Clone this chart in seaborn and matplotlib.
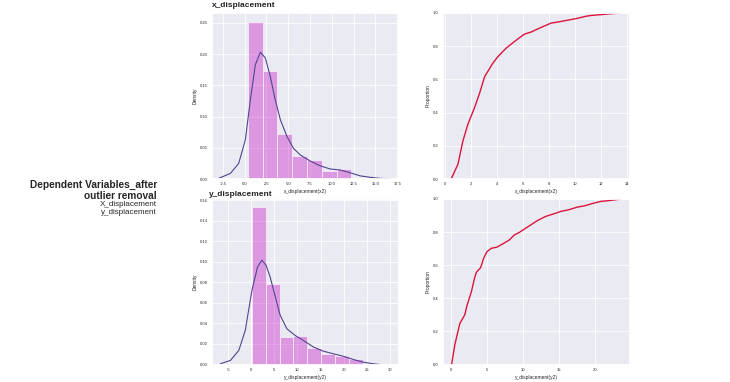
import numpy as np
import matplotlib
matplotlib.use("Agg")
import matplotlib.pyplot as plt
import seaborn as sns

# histogram bins (density)
x_bin_edges = [0.35, 2.05, 3.75, 5.45, 7.15, 8.85, 10.55, 12.25]
x_bin_density = [0.252, 0.173, 0.072, 0.037, 0.030, 0.013, 0.016]
y_bin_edges = [0.15, 3.15, 6.15, 9.15, 12.15, 15.15, 18.15, 21.15, 24.15]
y_bin_density = [0.153, 0.078, 0.0267, 0.0276, 0.016, 0.0098, 0.0078, 0.0055]

# kde curves
x_kde_x = [-3.0, -1.64, -0.69, 0.08, 0.65, 1.22, 1.8, 2.37, 2.94, 3.5, 4.09, 4.85,
           5.6, 6.38, 7.5, 8.68, 9.82, 10.97, 12.1, 13.26, 14.4, 15.56, 16.7]
x_kde_y = [0.001, 0.009, 0.025, 0.063, 0.127, 0.183, 0.203, 0.194, 0.164, 0.127, 0.095, 0.068,
           0.049, 0.0385, 0.029, 0.021, 0.016, 0.0144, 0.010, 0.005, 0.0027, 0.001, 0.0002]
y_kde_x = [-6.7, -4.5, -2.7, -1.3, 0.14, 1.37, 2.3, 3.2, 4.1, 5.2, 6.26, 7.7, 9.5, 11.3,
           13.5, 15.6, 17.8, 19.9, 22.1, 24.2, 26.4, 27.8]
y_kde_y = [0.0007, 0.004, 0.0137, 0.033, 0.072, 0.095, 0.1015, 0.0966, 0.085, 0.066, 0.048,
           0.0348, 0.0283, 0.0234, 0.0169, 0.013, 0.0104, 0.0081, 0.0049, 0.0023, 0.0007, 0.0]

# empirical cdf curves
x_ecdf_x = [0.48, 1.0, 1.38, 1.76, 2.27, 2.65, 3.04, 3.67, 4.06, 4.69, 5.33, 6.1, 6.6, 7.37,
            8.14, 9.03, 10.05, 10.8, 11.2, 11.96, 12.6, 13.5]
x_ecdf_y = [0.0, 0.09, 0.23, 0.33, 0.43, 0.515, 0.616, 0.697, 0.737, 0.788, 0.828, 0.873,
            0.885, 0.913, 0.939, 0.951, 0.966, 0.98, 0.985, 0.99, 0.995, 1.0]
y_ecdf_x = [0.14, 0.6, 1.28, 1.97, 2.29, 2.89, 3.35, 3.58, 4.17, 4.59, 5.05, 5.64, 6.42, 7.25,
            8.17, 8.85, 9.54, 10.23, 11.15, 12.06, 13.2, 14.36, 15.3, 16.4, 17.6, 18.7,
            19.86, 20.8, 21.9, 23.7]
y_ecdf_y = [0.0, 0.121, 0.247, 0.30, 0.358, 0.44, 0.526, 0.557, 0.585, 0.642, 0.682, 0.702,
            0.709, 0.729, 0.753, 0.783, 0.798, 0.818, 0.844, 0.870, 0.895, 0.911, 0.925,
            0.935, 0.951, 0.96, 0.975, 0.985, 0.99, 1.0]

sns.set_theme(style="darkgrid")
plt.rcParams["font.family"] = ["Liberation Sans", "DejaVu Sans"]
plt.rcParams["xtick.labelsize"] = 3
plt.rcParams["ytick.labelsize"] = 3
plt.rcParams["axes.labelsize"] = 3.5
plt.rcParams["xtick.major.size"] = 0
plt.rcParams["ytick.major.size"] = 0
plt.rcParams["xtick.major.pad"] = 2.5
plt.rcParams["ytick.major.pad"] = 3
plt.rcParams["axes.labelpad"] = 2
plt.rcParams["grid.linewidth"] = 0.6

fig = plt.figure(figsize=(7.30, 3.82), dpi=100)
fig.patch.set_facecolor("white")

W = 187 / 730
H_top = 166 / 382
H_bot = 165.5 / 382
ax_hx = fig.add_axes([212 / 730, 1 - 179 / 382, W, H_top])
ax_cx = fig.add_axes([443 / 730, 1 - 179 / 382, W, H_top])
ax_hy = fig.add_axes([212 / 730, 1 - 364.5 / 382, W, H_bot])
ax_cy = fig.add_axes([443 / 730, 1 - 364.5 / 382, W, H_bot])


def dist_panel(ax, edges, dens, kx, ky, xlabel, xlim, ylim, xticks, yticks, fmt):
    centers = [(a + b) / 2 for a, b in zip(edges[:-1], edges[1:])]
    sns.histplot(x=centers, weights=dens, bins=edges, ax=ax, color="#bf00bf", alpha=0.35,
                 edgecolor="white", linewidth=0.4)
    sns.lineplot(x=kx, y=ky, ax=ax, color="#4f468f", linewidth=0.8)
    ax.set_xlim(*xlim)
    ax.set_ylim(*ylim)
    ax.set_xticks(xticks)
    ax.set_xticklabels([fmt.format(t) for t in xticks])
    ax.set_yticks(yticks)
    ax.set_yticklabels(["{:.2f}".format(t) for t in yticks])
    ax.set_xlabel(xlabel)
    ax.set_ylabel("Density")


def ecdf_panel(ax, ex, ey, xlabel, xticks):
    sns.lineplot(x=ex, y=ey, ax=ax, color="crimson", linewidth=1.0)
    ax.set_ylim(0, 1)
    ax.set_xticks(xticks)
    ax.set_yticks([0.0, 0.2, 0.4, 0.6, 0.8, 1.0])
    ax.set_yticklabels(["0.0", "0.2", "0.4", "0.6", "0.8", "1.0"])
    ax.set_xlabel(xlabel)
    ax.set_ylabel("Proportion")


dist_panel(ax_hx, x_bin_edges, x_bin_density, x_kde_x, x_kde_y, "x_displacement(x2)",
           (-3.75, 17.7), (0, 0.266), [-2.5, 0, 2.5, 5, 7.5, 10, 12.5, 15, 17.5],
           [0, 0.05, 0.10, 0.15, 0.20, 0.25], "{:.1f}")
dist_panel(ax_hy, y_bin_edges, y_bin_density, y_kde_x, y_kde_y, "y_displacement(y2)",
           (-8.5, 32), (0, 0.161), [-5, 0, 5, 10, 15, 20, 25, 30],
           [0, 0.02, 0.04, 0.06, 0.08, 0.10, 0.12, 0.14, 0.16], "{:.0f}")
ecdf_panel(ax_cx, x_ecdf_x, x_ecdf_y, "x_displacement(x2)", [0, 2, 4, 6, 8, 10, 12, 14])
ax_cx.set_xlim(-0.15, 14.2)
ecdf_panel(ax_cy, y_ecdf_x, y_ecdf_y, "y_displacement(y2)", [0, 5, 10, 15, 20, 25])
ax_cy.set_xlim(-1.05, 24.9)

# slide titles
fig.text(212 / 730, 1 - 5.5 / 382, "x_displacement", fontsize=6, fontweight="bold",
         ha="left", va="center")
fig.text(209 / 730, 1 - 194 / 382, "y_displacement", fontsize=6, fontweight="bold",
         ha="left", va="center")

fig.text(157 / 730, 1 - 185 / 382, "Dependent Variables_after", fontsize=7.3,
         fontweight="bold", ha="right", va="center")
fig.text(157 / 730, 1 - 195.7 / 382, "outlier removal", fontsize=7.3,
         fontweight="bold", ha="right", va="center")
fig.text(157 / 730, 1 - 204.5 / 382, "X_displacement", fontsize=5.8, ha="right",
         va="center")
fig.text(157 / 730, 1 - 213 / 382, "y_displacement", fontsize=5.8, ha="right",
         va="center")

fig.savefig("out.png", dpi=100, facecolor="white")
